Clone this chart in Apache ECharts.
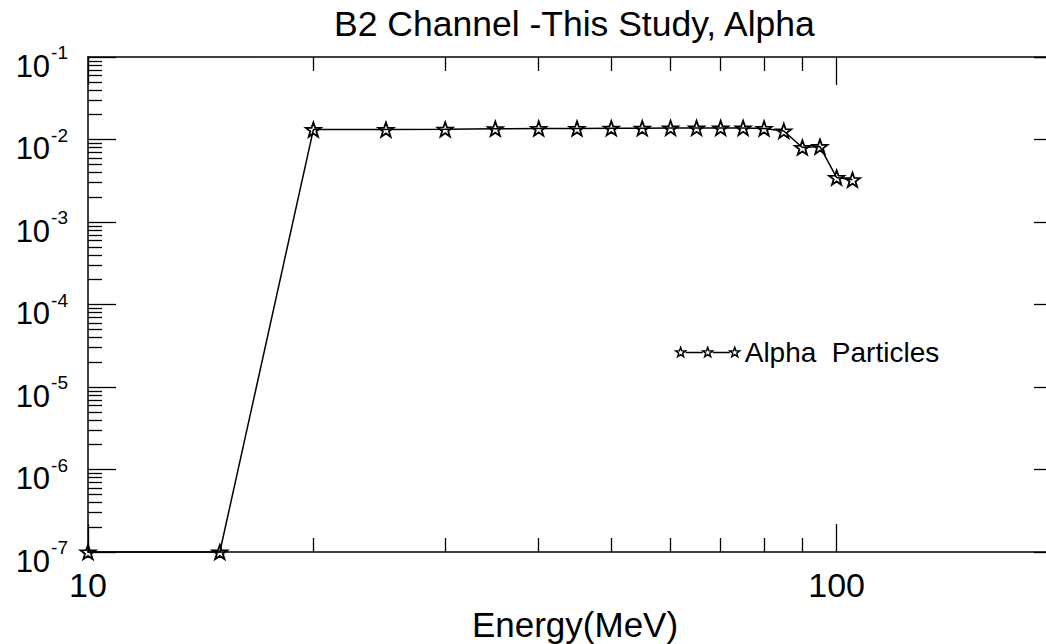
<!DOCTYPE html>
<html>
<head>
<meta charset="utf-8">
<script src="https://cdn.jsdelivr.net/npm/echarts@6/dist/echarts.min.js"></script>
<style>
  html, body { margin: 0; padding: 0; background: #fff; }
  #main { width: 1046px; height: 644px; }
</style>
</head>
<body>
<div id="main"></div>
<script>
// energy (MeV) and response
var energy = [10, 15, 20, 25, 30, 35, 40, 45, 50, 55, 60, 65, 70, 75, 80, 85, 90, 95, 100, 105];
var alpha = [1e-7, 1e-7, 0.0132, 0.0132, 0.0133, 0.0135, 0.0136, 0.0136, 0.0137, 0.0137,
             0.0138, 0.0138, 0.0138, 0.0138, 0.0136, 0.0127, 0.0080, 0.0082, 0.00346, 0.00325];
var xMinor = [20, 30, 40, 50, 60, 70, 80, 90];
var yMinor = [];
for (var e = -7; e < -1; e++) {
  for (var k = 2; k <= 9; k++) yMinor.push(k * Math.pow(10, e));
}

var starPath = 'path://M10 0L12.35 6.76L19.51 6.91L13.8 11.24L15.88 18.09L10 14L4.12 18.09L6.2 11.24L0.49 6.91L7.65 6.76Z';
var legendPath = 'path://M5 0L6.18 3.38L9.76 3.45L6.9 5.62L7.94 9.05L5 7L2.06 9.05L3.1 5.62L0.24 3.45L3.82 3.38Z' +
  'M31 0L32.18 3.38L35.76 3.45L32.9 5.62L33.94 9.05L31 7L28.06 9.05L29.1 5.62L26.24 3.45L29.82 3.38Z' +
  'M57 0L58.18 3.38L61.76 3.45L58.9 5.62L59.94 9.05L57 7L54.06 9.05L55.1 5.62L52.24 3.45L55.82 3.38Z' +
  'M9.76 5L26.24 5M35.76 5L52.24 5';

var font = 'Liberation Sans';
var lineBlack = { color: '#000', width: 1.5 };

function logAxis(dim, pos, major, opts) {
  var ax = {
    type: 'log',
    position: pos,
    min: dim === 'x' ? 10 : 1e-7,
    max: dim === 'x' ? 200 : 0.1,
    logBase: 10,
    splitLine: { show: false },
    axisLine: { show: major, lineStyle: lineBlack },
    axisTick: { show: true, inside: true, length: major ? 28 : 14, lineStyle: { color: '#000', width: 1.3 } },
    axisLabel: { show: false }
  };
  if (!major) ax.axisTick.customValues = dim === 'x' ? xMinor : yMinor;
  return Object.assign(ax, opts || {});
}

var myChart = echarts.init(document.getElementById('main'), null, { renderer: 'svg' });

var option = {
  backgroundColor: '#fff',
  animation: false,
  textStyle: { fontFamily: font },
  title: {
    text: 'B2 Channel -This Study, Alpha',
    left: 334,
    top: 6,
    padding: 0,
    textStyle: { fontFamily: font, fontSize: 35.5, fontWeight: 'normal', color: '#000' }
  },
  legend: {
    left: 675,
    top: 338,
    padding: 0,
    itemWidth: 64,
    itemHeight: 11,
    itemGap: 5,
    icon: legendPath,
    itemStyle: { color: 'rgba(255,255,255,0)', borderColor: '#000', borderWidth: 1.4 },
    textStyle: { fontFamily: font, fontSize: 28, color: '#000' },
    data: ['Alpha  Particles']
  },
  grid: { left: 88, top: 57, width: 974, bottom: 92, outerBoundsMode: 'none', containLabel: false },
  xAxis: [
    logAxis('x', 'bottom', true, {
      name: 'Energy(MeV)',
      nameLocation: 'middle',
      nameGap: 55,
      nameTextStyle: { fontFamily: font, fontSize: 35, color: '#000' },
      axisLabel: {
        show: true, margin: 16, color: '#000', fontFamily: font, fontSize: 34,
        formatter: function (v) {
          var lg = Math.log10(v);
          return Math.abs(lg - Math.round(lg)) < 1e-6 ? String(Math.round(v)) : '';
        }
      }
    }),
    logAxis('x', 'bottom', false),
    logAxis('x', 'top', true),
    logAxis('x', 'top', false)
  ],
  yAxis: [
    logAxis('y', 'left', true, {
      axisLabel: {
        show: true, margin: 20, color: '#000', fontFamily: font,
        formatter: function (v) {
          return '{b|10}{s|' + Math.round(Math.log10(v)) + '}';
        },
        rich: {
          b: { fontFamily: font, fontSize: 31, lineHeight: 31, padding: [18, 0, 0, 0], color: '#000' },
          s: { fontFamily: font, fontSize: 19, lineHeight: 19, padding: [0, 0, 9, 1], color: '#000' }
        }
      }
    }),
    logAxis('y', 'left', false),
    logAxis('y', 'right', true),
    logAxis('y', 'right', false)
  ],
  series: [
    {
      name: 'Alpha  Particles',
      type: 'line',
      xAxisIndex: 0,
      yAxisIndex: 0,
      data: energy.map(function (x, i) { return [x, alpha[i]]; }),
      symbol: starPath,
      symbolSize: 15,
      symbolKeepAspect: true,
      showAllSymbol: true,
      clip: false,
      lineStyle: { color: '#000', width: 1.5 },
      itemStyle: { color: 'rgba(255,255,255,0)', borderColor: '#000', borderWidth: 1.8 }
    }
  ]
};
myChart.setOption(option);
</script>
</body>
</html>
